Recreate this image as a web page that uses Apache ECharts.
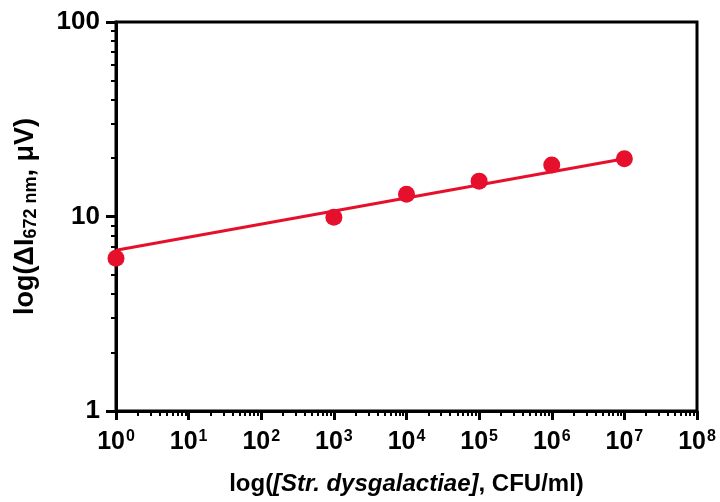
<!DOCTYPE html>
<html>
<head>
<meta charset="utf-8">
<script src="https://cdn.jsdelivr.net/npm/echarts@6/dist/echarts.min.js"></script>
<style>html,body{margin:0;padding:0;background:#fff}#c{width:720px;height:502px}</style>
</head>
<body>
<div id="c"></div>
<script>
// concentrations (CFU/ml) and measured signal (µV)
const concentrations = [1, 1e3, 1e4, 1e5, 1e6, 1e7];
const signal = [6.1, 9.9, 13.0, 15.2, 18.4, 19.8];
// fitted line end points
const fitX = [1, 1e7];
const fitY = [6.7, 19.8];
const xTickExponents = [0, 1, 2, 3, 4, 5, 6, 7, 8];
const yTickLabels = ['1', '10', '100'];

const chart = echarts.init(document.getElementById('c'), null, {renderer: 'canvas'});
const font = 'Arial, "Liberation Sans", sans-serif';
const red = '#e6102c';

chart.setOption({
  animation: false,
  backgroundColor: '#fff',
  grid: {left: 116, right: 23, top: 22, bottom: 91, show: true, borderColor: '#000', borderWidth: 3, backgroundColor: 'transparent'},
  xAxis: {
    type: 'log', logBase: 10, min: 1, max: 1e8, splitNumber: 8,
    name: '{n|log(}{i|[Str. dysgalactiae]}{n|, CFU/ml)}',
    nameLocation: 'middle', nameGap: 61,
    nameTextStyle: {rich: {
      n: {fontFamily: font, fontWeight: 'bold', fontSize: 24, color: '#000'},
      i: {fontFamily: font, fontWeight: 'bold', fontStyle: 'italic', fontSize: 24, color: '#000'}
    }},
    axisLine: {show: true, lineStyle: {color: '#000', width: 3}},
    axisTick: {show: true, inside: false, length: 9, lineStyle: {color: '#000', width: 3}},
    minorTick: {show: true, splitNumber: 9, length: 5, lineStyle: {color: '#000', width: 2}},
    splitLine: {show: false},
    axisLabel: {
      margin: 18,
      formatter: v => '{b|10}{s|' + xTickExponents[Math.round(Math.log10(v))] + '}',
      rich: {
        b: {fontFamily: font, fontWeight: 'bold', fontSize: 25, color: '#000'},
        s: {fontFamily: font, fontWeight: 'bold', fontSize: 16, color: '#000', verticalAlign: 'top', padding: [0, 0, 10, 1]}
      }
    }
  },
  yAxis: {
    type: 'log', logBase: 10, min: 1, max: 100,
    name: '{n|log(ΔI}{s|672 nm}{n|, μV)}',
    nameLocation: 'middle', nameGap: 76, nameRotate: 90,
    nameTextStyle: {rich: {
      n: {fontFamily: font, fontWeight: 'bold', fontSize: 27, color: '#000'},
      s: {fontFamily: font, fontWeight: 'bold', fontSize: 18, color: '#000', padding: [10, 0, 0, 0]}
    }},
    axisLine: {show: true, lineStyle: {color: '#000', width: 3}},
    axisTick: {show: true, inside: false, length: 10, lineStyle: {color: '#000', width: 3}},
    minorTick: {show: true, splitNumber: 9, length: 5, lineStyle: {color: '#000', width: 2}},
    splitLine: {show: false},
    axisLabel: {margin: 16, fontFamily: font, fontWeight: 'bold', fontSize: 26, color: '#000',
      formatter: v => yTickLabels.includes(String(v)) ? String(v) : ''}
  },
  series: [
    {type: 'line', data: fitX.map((x, i) => [x, fitY[i]]), showSymbol: false, symbol: 'none',
     lineStyle: {color: red, width: 3}, z: 2, silent: true},
    {type: 'scatter', data: concentrations.map((x, i) => [x, signal[i]]), symbol: 'circle', symbolSize: 17,
     itemStyle: {color: red, opacity: 1}, z: 3}
  ]
});
</script>
</body>
</html>
